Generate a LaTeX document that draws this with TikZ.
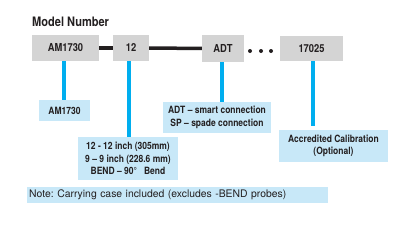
\documentclass[tikz,border=0pt]{standalone}
\usepackage{fontspec}
\setmainfont{TeX Gyre Heros}
\newfontfamily\condfont{TeX Gyre Heros}[FakeStretch=0.85]
\definecolor{boxgray}{RGB}{212,212,212}
\definecolor{labelblue}{RGB}{200,232,248}
\definecolor{linkcyan}{RGB}{0,174,239}
\definecolor{ink}{RGB}{35,31,32}
\frenchspacing

\begin{document}
\begin{tikzpicture}[x=1pt,y=-1pt,
  graybox/.style={fill=boxgray,inner sep=0pt,text=ink,font=\condfont\bfseries\fontsize{11}{13}\selectfont},
  labelbox/.style={fill=labelblue,inner sep=0pt,text=ink,align=center,font=\condfont\bfseries\fontsize{10}{12.5}\selectfont},
  link/.style={linkcyan,line width=4pt},
  bar/.style={ink,line width=3.5pt}]
\useasboundingbox (0,0) rectangle (415,228);
\node[anchor=base west,inner sep=0pt,text=ink,font=\condfont\bfseries\fontsize{13}{15}\selectfont] (title) at (32,26.7) {Model Number};
% model number boxes
\node[graybox,minimum width=67pt,minimum height=26pt] (am) at (65.5,48) {AM1730};
\node[graybox,minimum width=36pt,minimum height=26pt] (len) at (131,48) {12};
\node[graybox,minimum width=42pt,minimum height=27pt] (adt) at (223,48.5) {ADT};
\node[graybox,minimum width=63pt,minimum height=25pt] (cal) at (311.5,48.5) {17025};
\draw[bar] (am) -- (len);
\draw[bar] (len) -- (adt);
\foreach \x in {250,261,271}{
  \fill[ink] (\x,51) circle (2pt);
}
% explanations
\node[labelbox,minimum width=51pt,minimum height=21pt] (amtxt) at (64.5,110.5) {AM1730};
\node[labelbox,minimum width=108pt,minimum height=31pt] (adttxt) at (217,117.5) {ADT – smart connection\\SP – spade connection};
\node[labelbox,minimum width=100pt,minimum height=43pt] (lentxt) at (128,158.5) {12 - 12 inch (305mm)\\9 – 9 inch (228.6 mm)\\BEND – 90°\ \ \ Bend};
\node[labelbox,minimum width=109pt,minimum height=32pt] (caltxt) at (333.5,146) {Accredited Calibration\\(Optional)};
\node[fill=labelblue,inner sep=0pt,text=ink,anchor=west,minimum width=301pt,minimum height=16pt,text width=297pt,align=left,font=\fontsize{10.4}{12}\selectfont] (note) at (27,195) {Note: Carrying case included (excludes -BEND probes)};
\draw[link] (am.south) ++(-1.5,0) coordinate (a1) -- (a1 |- amtxt.north);
\draw[link] (len.south) ++(-2,0) coordinate (a2) -- (a2 |- lentxt.north);
\draw[link] (adt.south) ++(-1,0) coordinate (a3) -- (a3 |- adttxt.north);
\draw[link] (cal.south) ++(1.5,0) coordinate (a4) -- ([yshift=4pt]a4 |- caltxt.north);
\end{tikzpicture}
\end{document}
